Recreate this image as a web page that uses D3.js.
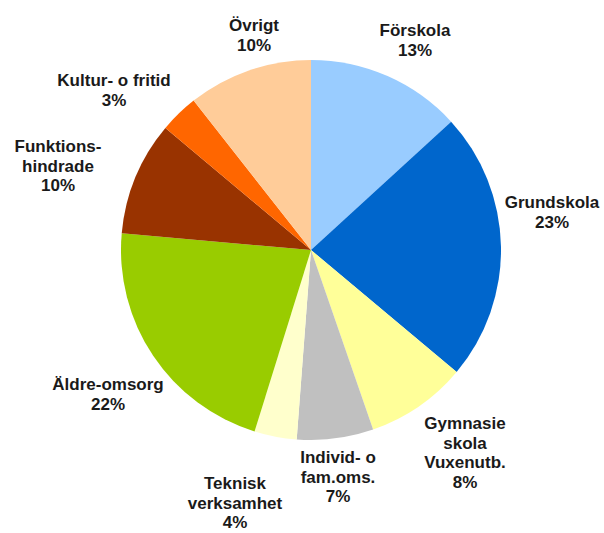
<!DOCTYPE html>
<html>
<head>
<meta charset="utf-8">
<script src="https://cdn.jsdelivr.net/npm/d3@7"></script>
<style>
	body { margin: 0; background: #fff; }
	text { font-family: "Liberation Sans", Arial, sans-serif; font-weight: bold; font-size: 17px; fill: #1a1a1a; }
</style>
</head>
<body>
<div id="chart"></div>
<script>
// slices, clockwise from 12 o'clock
var categories = [
	["Förskola"],
	["Grundskola"],
	["Gymnasie", "skola", "Vuxenutb."],
	["Individ- o", "fam.oms."],
	["Teknisk", "verksamhet"],
	["Äldre-omsorg"],
	["Funktions-", "hindrade"],
	["Kultur- o fritid"],
	["Övrigt"]
];
var values = [13.2, 22.9, 8.6, 6.5, 3.6, 21.6, 9.7, 3.3, 10.6];
var pctLabels = ["13%", "23%", "8%", "7%", "4%", "22%", "10%", "3%", "10%"];
var colors = ["#99CCFF", "#0066CC", "#FFFF99", "#C0C0C0", "#FFFFCC", "#99CC00", "#993300", "#FF6600", "#FFCC99"];

// label anchor: centre x and first baseline
var labelPos = [
	[415, 36], [552, 208], [465, 429], [338, 463], [235, 489],
	[108, 390], [58, 152], [114, 86], [254, 31]
];

var width = 604,
	height = 533,
	cx = 311,
	cy = 250,
	radius = 190,
	lineH = 19.5;

var svg = d3.select("#chart")
	.append("svg")
	.attr("width", width)
	.attr("height", height);

var pie = d3.pie().sort(null).value(function (d) { return d; });
var arc = d3.arc().innerRadius(0).outerRadius(radius);

var g = svg.append("g").attr("transform", "translate(" + cx + "," + cy + ")");

g.selectAll("path")
	.data(pie(values))
	.enter()
	.append("path")
	.attr("d", arc)
	.attr("fill", function (d, i) { return colors[i]; });

var labels = svg.selectAll("text.lbl")
	.data(categories)
	.enter()
	.append("text")
	.attr("class", "lbl")
	.attr("text-anchor", "middle");

labels.each(function (lines, i) {
	var t = d3.select(this);
	var all = lines.concat([pctLabels[i]]);
	all.forEach(function (s, k) {
		t.append("tspan")
			.attr("x", labelPos[i][0])
			.attr("y", labelPos[i][1] + k * lineH)
			.text(s);
	});
});
</script>
</body>
</html>
